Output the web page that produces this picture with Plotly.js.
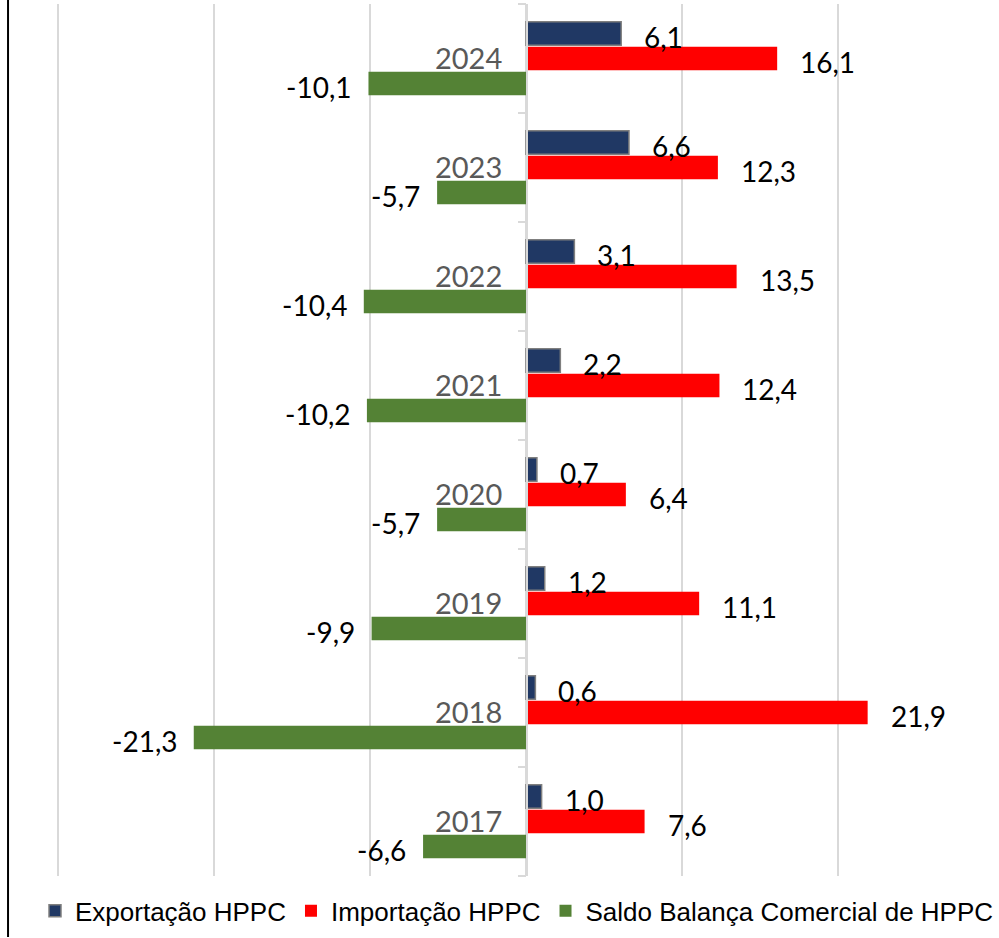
<!DOCTYPE html>
<html>
<head>
<meta charset="utf-8">
<script src="https://cdn.plot.ly/plotly-3.0.1.min.js"></script>
<style>html,body{margin:0;padding:0;background:#fff}</style>
</head>
<body>
<div id="plot" style="width:999px;height:938px"></div>
<script>
// anos (categorias) e valores em mil milhões
var years = ["2017", "2018", "2019", "2020", "2021", "2022", "2023", "2024"];
var exportacao = [1.0, 0.6, 1.2, 0.7, 2.2, 3.1, 6.6, 6.1];
var importacao = [7.6, 21.9, 11.1, 6.4, 12.4, 13.5, 12.3, 16.1];
var saldo = [-6.6, -21.3, -9.9, -5.7, -10.2, -10.4, -5.7, -10.1];

var numFont = "Lato, 'Open Sans', sans-serif";

// horizontal bars: first trace sits at the bottom of each group
var trace3 = {
    y: years, x: saldo, type: "bar", orientation: "h",
    name: "Saldo Balança Comercial de HPPC",
    marker: {color: "#548235"}
};
var trace2 = {
    y: years, x: importacao, type: "bar", orientation: "h",
    name: "Importação HPPC",
    marker: {color: "#ff0000"}
};
var trace1 = {
    y: years, x: exportacao, type: "bar", orientation: "h",
    name: "Exportação HPPC",
    marker: {color: "#203864", line: {color: "#7f7f7f", width: 1.5}}
};

function fmt(v) { return v.toFixed(1).replace(".", ","); }

// data labels, placed by category index
var annotations = [];
function addLabels(vals, shift) {
    for (var i = 0; i < years.length; i++) {
        var v = vals[i];
        annotations.push({
            x: v, y: i, xref: "x", yref: "y",
            text: fmt(v), showarrow: false,
            xanchor: v >= 0 ? "left" : "right",
            xshift: v >= 0 ? 21 : -15,
            yshift: shift - 3,
            font: {family: numFont, size: 28, color: "#000"}
        });
    }
}
addLabels(exportacao, 25);
addLabels(importacao, 0);
addLabels(saldo, -25);

var layout = {
    width: 999, height: 938,
    margin: {l: 10, r: 5, t: 4, b: 58},
    barmode: "group",
    bargap: 0.31,
    bargroupgap: 0.06,
    showlegend: true,
    legend: {
        orientation: "h", x: 0.52, xanchor: "center", y: -0.04, yanchor: "middle",
        traceorder: "reversed",
        font: {family: "'Liberation Sans', Arial, sans-serif", size: 26, color: "#000"}
    },
    xaxis: {
        range: [-33.08, 30], tick0: 0, dtick: 10,
        showticklabels: false, zeroline: false, showline: false,
        gridcolor: "#d9d9d9", gridwidth: 1.5
    },
    yaxis: {
        type: "category", range: [-0.5, 7.5], autorange: false,
        anchor: "free", position: 0.5244,
        showline: true, linecolor: "#d9d9d9", linewidth: 1.5,
        ticks: "outside", ticklen: 8, tickcolor: "#d9d9d9", tickwidth: 1.5,
        tickson: "boundaries", showgrid: false,
        ticklabelstandoff: 18,
        tickfont: {family: numFont, size: 29, color: "#595959"}
    },
    shapes: [{
        type: "line", xref: "paper", yref: "paper",
        x0: -0.002, x1: -0.002, y0: -0.07, y1: 1.01,
        line: {color: "#000", width: 2}
    }],
    annotations: annotations,
    paper_bgcolor: "#fff", plot_bgcolor: "#fff"
};

Plotly.newPlot("plot", [trace3, trace2, trace1], layout, {staticPlot: true});
</script>
</body>
</html>
